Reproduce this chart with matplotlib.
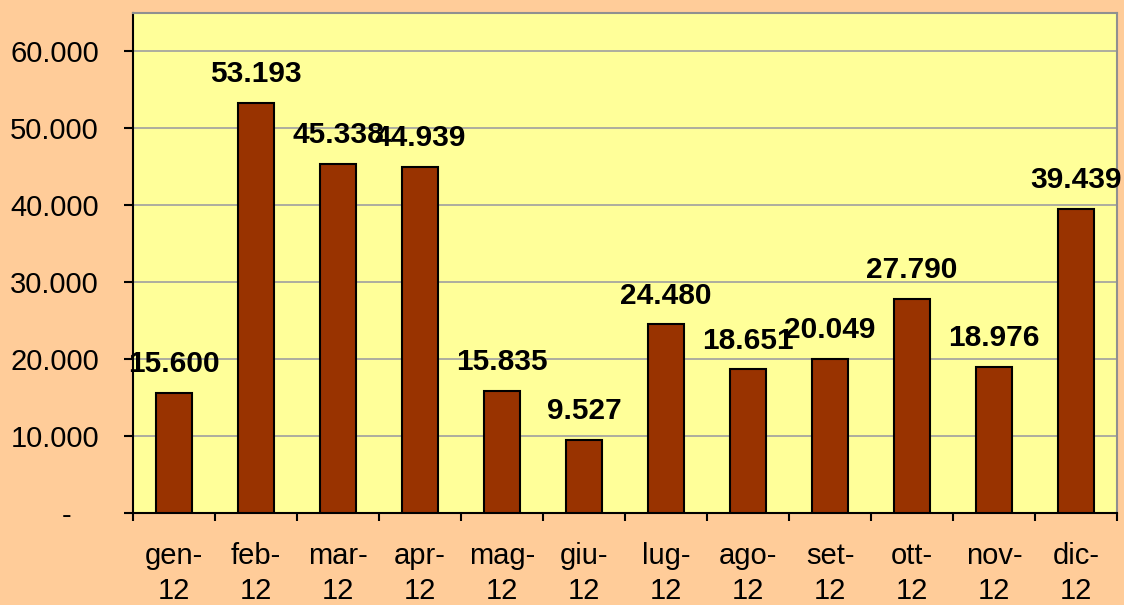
import matplotlib.pyplot as plt
import numpy as np
from matplotlib.ticker import FuncFormatter, FixedLocator

months = ["gen-\n12", "feb-\n12", "mar-\n12", "apr-\n12", "mag-\n12", "giu-\n12",
          "lug-\n12", "ago-\n12", "set-\n12", "ott-\n12", "nov-\n12", "dic-\n12"]
values = [15600, 53193, 45338, 44939, 15835, 9527, 24480, 18651, 20049, 27790, 18976, 39439]
yticks = [0, 10000, 20000, 30000, 40000, 50000, 60000]


def fmt_it(v, pos=None):
    if v == 0:
        return ""
    return "{:,.0f}".format(v).replace(",", ".")


plt.rcParams['font.family'] = ['Liberation Sans', 'DejaVu Sans']

fig = plt.figure(figsize=(11.24, 6.05), dpi=100, facecolor='#FFCC99')
ax = fig.add_axes([0.1183, 0.152, 0.8755, 0.8265])
ax.set_facecolor('#FFFF99')

x = np.arange(len(months))
bars = ax.bar(x, values, width=0.43, color='#993300', edgecolor='black', linewidth=1.5, zorder=3)

for xi, v in zip(x, values):
    ax.annotate(fmt_it(v), (xi, v), xytext=(0, 15), textcoords='offset points',
                ha='center', va='baseline', fontsize=21.5, fontweight='bold', zorder=4)

ax.set_xlim(-0.5, len(months) - 0.5)
ax.set_ylim(0, 64900)
ax.set_yticks(yticks)
ax.yaxis.set_major_formatter(FuncFormatter(fmt_it))
ax.yaxis.grid(True, color='#A0A0A0', linewidth=1.2, zorder=0)
ax.tick_params(axis='y', labelsize=21, length=6.5, width=1.5, pad=18, direction='out')

# zero label drawn as a dash, placed like the spreadsheet's accounting format
ax.annotate("-", (0, 0), xycoords=('axes fraction', 'data'), xytext=(-48, 0),
            textcoords='offset points', ha='center', va='center_baseline', fontsize=21)

ax.set_xticks(x)
ax.set_xticklabels(months, fontsize=21, linespacing=1.3)
ax.xaxis.set_minor_locator(FixedLocator(np.arange(-0.5, len(months), 1)))
ax.tick_params(axis='x', which='major', length=0, pad=21)
ax.tick_params(axis='x', which='minor', length=6, width=1.5, direction='out')

for side in ['left', 'bottom']:
    ax.spines[side].set_color('black')
    ax.spines[side].set_linewidth(1.5)
for side in ['top', 'right']:
    ax.spines[side].set_color('#909090')
    ax.spines[side].set_linewidth(1.5)

fig.savefig('out.png', dpi=100, facecolor=fig.get_facecolor())
